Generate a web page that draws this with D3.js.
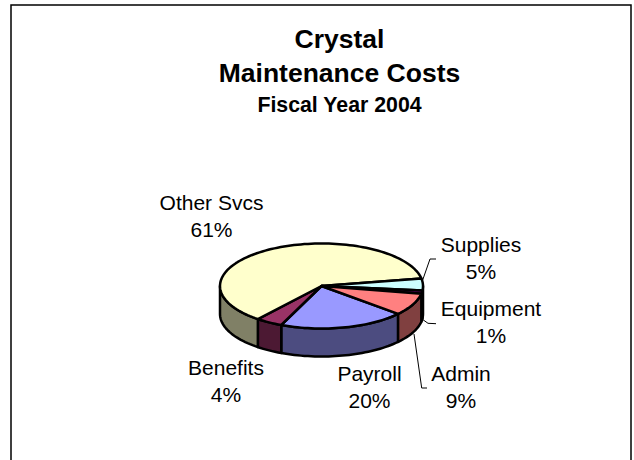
<!DOCTYPE html>
<html>
<head>
<meta charset="utf-8">
<script src="https://cdn.jsdelivr.net/npm/d3@7"></script>
<style>
    html, body { margin: 0; padding: 0; background: #fff; overflow: hidden; }
    text { font-family: "Liberation Sans", Arial, sans-serif; fill: #000; }
</style>
</head>
<body>
<div class="chart"></div>
<script>
const categories = ["Payroll", "Benefits", "Other Svcs", "Supplies", "Equipment", "Admin"]
const shares = [20.1, 4.3, 61.4, 4.5, 1.2, 8.5]
const topColors = ["#9999ff", "#993366", "#ffffcc", "#ccffff", "#660066", "#ff8080"]
const wallColors = ["#4c4c80", "#4c1933", "#808066", "#668080", "#330033", "#804040"]

function pie3d() {
    const width = 634
    const height = 460

    const cx = 321.5
    const cy = 286
    const rx = 101.5
    const ry = 42.5
    const depth = 28
    const deg = Math.PI / 180

    let svg = d3.select(".chart").append("svg")
        .attr("width", width)
        .attr("height", height)

    // chart frame, the bottom edge falls off the page
    svg.append("rect")
        .attr("x", 11).attr("y", 5)
        .attr("width", 620).attr("height", 470)
        .attr("fill", "white").attr("stroke", "black").attr("stroke-width", 1.5)

    const titles = [
        { text: "Crystal", y: 48, size: 26.5 },
        { text: "Maintenance Costs", y: 82, size: 26.5 },
        { text: "Fiscal Year 2004", y: 112, size: 21.3 }
    ]
    svg.selectAll(".title").data(titles).enter().append("text")
        .attr("class", "title")
        .attr("x", 339.5).attr("y", d => d.y)
        .attr("text-anchor", "middle")
        .attr("font-weight", "bold")
        .attr("font-size", d => d.size)
        .text(d => d.text)

    // pie starts at 12 o'clock, turned so Payroll sits at the front right
    const pie = d3.pie().sort(null).value(d => d)
        .startAngle(131 * deg).endAngle(491 * deg)
    const slices = pie(shares)

    const px = a => cx + rx * Math.sin(a)
    const py = a => cy - ry * Math.cos(a)
    const line = d3.line()

    const arcPoints = (a0, a1, dy) => {
        const n = Math.max(2, Math.ceil((a1 - a0) / (2 * deg)))
        return d3.range(n + 1).map(i => {
            const a = a0 + (a1 - a0) * i / n
            return [px(a), py(a) + dy]
        })
    }

    // walls: only the part of the rim between 3 and 9 o'clock can be seen
    const visible = []
    slices.forEach((s, i) => {
        [0, 360 * deg].forEach(turn => {
            const a0 = Math.max(s.startAngle - turn, 90 * deg)
            const a1 = Math.min(s.endAngle - turn, 270 * deg)
            if (a1 > a0) visible.push({ i, a0, a1 })
        })
    })
    svg.selectAll(".wall").data(visible).enter().append("path")
        .attr("class", "wall")
        .attr("d", d => line(arcPoints(d.a0, d.a1, 0).concat(arcPoints(d.a0, d.a1, depth).reverse())) + "Z")
        .attr("fill", d => wallColors[d.i])
        .attr("stroke", "black").attr("stroke-width", 2.5).attr("stroke-linejoin", "round")

    svg.selectAll(".slice").data(slices).enter().append("path")
        .attr("class", "slice")
        .attr("d", d => line([[cx, cy]].concat(arcPoints(d.startAngle, d.endAngle, 0))) + "Z")
        .attr("fill", (d, i) => topColors[i])
        .attr("stroke", "black").attr("stroke-width", 2.5).attr("stroke-linejoin", "round")

    const labelAt = {
        "Payroll": [369.5, 381],
        "Benefits": [226, 375],
        "Other Svcs": [211.5, 210],
        "Supplies": [481, 252],
        "Equipment": [491, 316],
        "Admin": [461, 381]
    }
    categories.forEach((c, i) => {
        const t = svg.append("text")
            .attr("text-anchor", "middle")
            .attr("font-size", 21)
        t.append("tspan").attr("x", labelAt[c][0]).attr("y", labelAt[c][1]).text(c)
        t.append("tspan").attr("x", labelAt[c][0]).attr("y", labelAt[c][1] + 27)
            .text(Math.round(shares[i]) + "%")
    })

    // leader lines out to the small slices
    const leaders = [
        [[422.7, 280], [430, 259], [436, 259]],
        [[422.7, 319.5], [428, 323.3], [436, 323.7]],
        [[414, 334], [421.7, 388], [427, 388]]
    ]
    svg.selectAll(".leader").data(leaders).enter().append("path")
        .attr("class", "leader")
        .attr("d", d => line(d))
        .attr("fill", "none").attr("stroke", "black").attr("stroke-width", 1)
}
pie3d()
</script>
</body>
</html>
